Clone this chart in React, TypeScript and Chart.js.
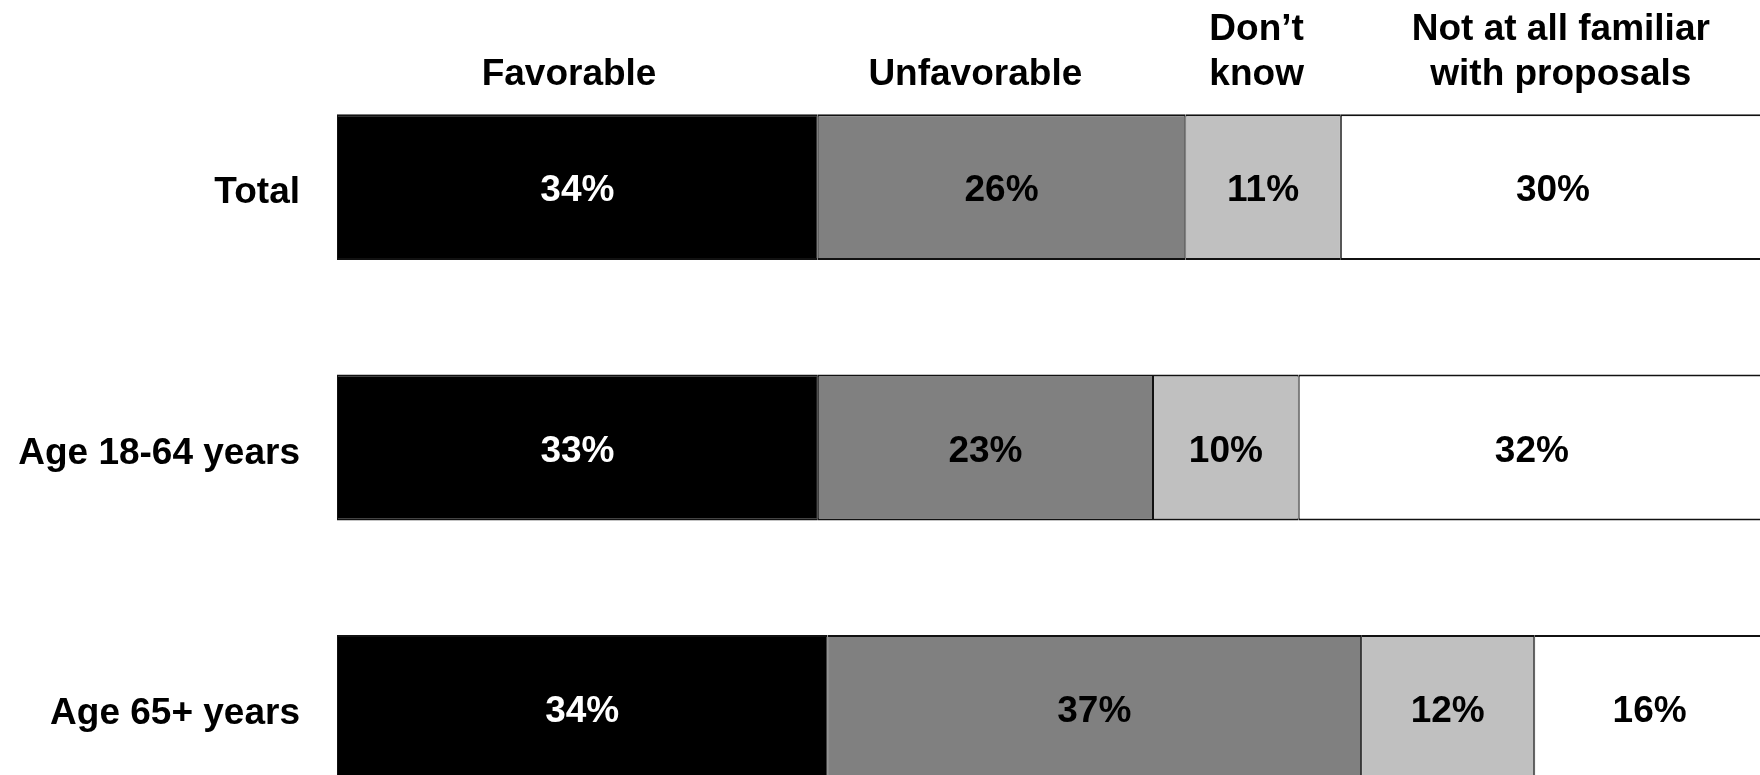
import React, { useEffect, useRef } from "react";
import { Chart, registerables } from "chart.js";

Chart.register(...registerables);

const categories = ["Total", "Age 18-64 years", "Age 65+ years"];
const seriesNames = ["Favorable", "Unfavorable", "Don’t know", "Not at all familiar with proposals"];
const favorable = [34, 33, 34];
const unfavorable = [26, 23, 37];
const dontKnow = [11, 10, 12];
const notFamiliar = [30, 32, 16];
const headerLines = [["Favorable"], ["Unfavorable"], ["Don’t", "know"], ["Not at all familiar", "with proposals"]];
const headerCenters = [16.25, 44.7, 64.4, 85.7];

const seriesValues = [favorable, unfavorable, dontKnow, notFamiliar];
const fills = ["#000000", "#808080", "#C0C0C0", "#FFFFFF"];
const labelColors = ["#FFFFFF", "#000000", "#000000", "#000000"];
const FONT = "'Liberation Sans', Arial, Helvetica, sans-serif";

const rowTotals = categories.map((_, i) => seriesValues.reduce((s, arr) => s + arr[i], 0));

const labelPlugin = {
  id: "segLabels",
  afterDatasetsDraw(chart: any) {
    const ctx = chart.ctx;
    ctx.save();
    ctx.font = `bold 37px ${FONT}`;
    ctx.textAlign = "center";
    ctx.textBaseline = "middle";
    chart.data.datasets.forEach((ds: any, di: number) => {
      const meta = chart.getDatasetMeta(di);
      meta.data.forEach((el: any, i: number) => {
        const cx = (el.x + el.base) / 2;
        ctx.fillStyle = labelColors[di];
        ctx.fillText(`${seriesValues[di][i]}%`, cx, el.y + 4);
      });
    });
    // headers
    const xs = chart.scales.x;
    const first = chart.getDatasetMeta(0).data[0];
    const barTop = first.y - first.height / 2;
    ctx.fillStyle = "#000000";
    headerLines.forEach((lines, hi) => {
      const x = xs.getPixelForValue(headerCenters[hi]);
      const n = lines.length;
      lines.forEach((line, li) => {
        const y = barTop - 39 - (n - 1 - li) * 45;
        ctx.fillText(line, x, y);
      });
    });
    ctx.restore();
  },
};

export default function App() {
  const ref = useRef<HTMLCanvasElement | null>(null);
  useEffect(() => {
    if (!ref.current) return;
    const chart = new Chart(ref.current, {
      type: "bar",
      data: {
        labels: categories,
        datasets: seriesValues.map((arr, di) => ({
          label: seriesNames[di],
          data: arr.map((v, i) => (v / rowTotals[i]) * 100),
          backgroundColor: fills[di],
          borderColor: "#111111",
          borderWidth: { top: 2, bottom: 2, left: 1, right: 1 },
          borderSkipped: false,
          barPercentage: 0.56,
          categoryPercentage: 1,
        })),
      },
      options: {
        indexAxis: "y",
        responsive: false,
        animation: false,
        layout: { padding: { top: 57, right: 1, left: 0, bottom: 0 } },
        plugins: { legend: { display: false }, tooltip: { enabled: false }, title: { display: false } },
        scales: {
          x: { stacked: true, min: 0, max: 100, display: false },
          y: {
            stacked: true,
            grid: { display: false, drawTicks: false },
            border: { display: false },
            ticks: {
              color: "#000000",
              font: { family: FONT, size: 37, weight: "bold" },
              padding: 37,
              labelOffset: 6,
            },
            afterFit: (scale: any) => {
              scale.width = 337;
              scale.paddingTop = 0;
              scale.paddingBottom = 0;
            },
          },
        },
      },
      plugins: [labelPlugin],
    } as any);
    return () => chart.destroy();
  }, []);
  return (
    <div style={{ position: "fixed", left: 0, top: 0, width: 1766, height: 838, background: "#fff" }}>
      <canvas ref={ref} width={1766} height={838} style={{ display: "block" }} />
    </div>
  );
}
